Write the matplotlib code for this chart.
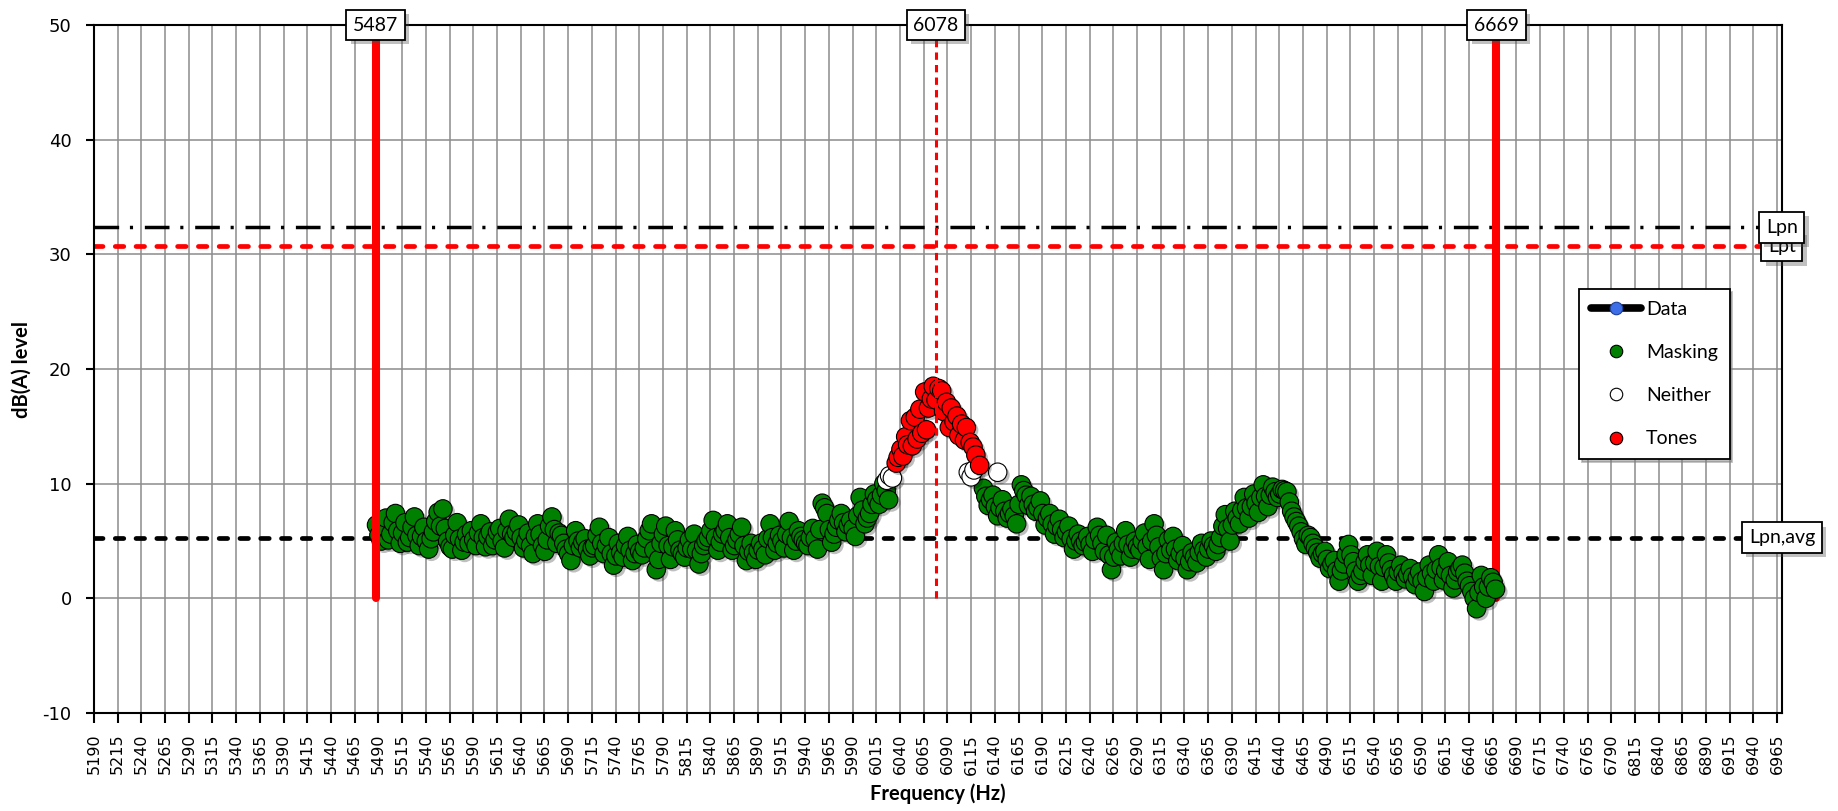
import matplotlib
matplotlib.use("Agg")
import matplotlib.pyplot as plt
import matplotlib.patheffects as pe
from matplotlib.lines import Line2D

plt.rcParams["axes.unicode_minus"] = False

# --- spectrum data (dB(A) per FFT line) -------------------------------------
# masking lines, even bins
masking_hz = [
    5488, 5493, 5498, 5503, 5508, 5513, 5518, 5523, 5528, 5533,
    5538, 5543, 5548, 5553, 5558, 5563, 5568, 5573, 5578, 5583,
    5588, 5593, 5598, 5603, 5608, 5613, 5618, 5623, 5628, 5633,
    5638, 5643, 5648, 5653, 5658, 5663, 5668, 5673, 5678, 5683,
    5688, 5693, 5698, 5703, 5708, 5713, 5718, 5723, 5728, 5733,
    5738, 5743, 5748, 5753, 5758, 5763, 5768, 5773, 5778, 5783,
    5788, 5793, 5798, 5803, 5808, 5813, 5818, 5823, 5828, 5833,
    5838, 5843, 5848, 5853, 5858, 5863, 5868, 5873, 5878, 5883,
    5888, 5893, 5898, 5903, 5908, 5913, 5918, 5923, 5928, 5933,
    5938, 5943, 5948, 5953, 5958, 5963, 5968, 5973, 5978, 5983,
    5988, 5993, 5998, 6003, 6008, 6013, 6018, 6023, 6028,
    6128, 6133, 6138, 6143, 6148, 6153, 6158, 6163, 6168, 6173,
    6178, 6183, 6188, 6193, 6198, 6203, 6208, 6213, 6218, 6223,
    6228, 6233, 6238, 6243, 6248, 6253, 6258, 6263, 6268, 6273,
    6278, 6283, 6288, 6293, 6298, 6303, 6308, 6313, 6318, 6323,
    6328, 6333, 6338, 6343, 6348, 6353, 6358, 6363, 6368, 6373,
    6378, 6383, 6388, 6393, 6398, 6403, 6408, 6413, 6418, 6423,
    6428, 6433, 6438, 6443, 6448, 6453, 6458, 6463, 6468, 6473,
    6478, 6483, 6488, 6493, 6498, 6503, 6508, 6513, 6518, 6523,
    6528, 6533, 6538, 6543, 6548, 6553, 6558, 6563, 6568, 6573,
    6578, 6583, 6588, 6593, 6598, 6603, 6608, 6613, 6618, 6623,
    6628, 6633, 6638, 6643, 6648, 6653, 6658, 6663, 6668,
]
masking_db = [
    6.4, 5.0, 7.0, 5.6, 7.4, 4.8, 6.6, 5.3, 7.1, 4.6,
    6.2, 4.3, 5.8, 7.5, 7.8, 5.0, 4.3, 6.6, 4.2, 5.6,
    5.9, 4.6, 6.5, 4.5, 5.8, 5.1, 6.1, 4.4, 6.9, 5.3,
    6.4, 4.4, 5.7, 3.9, 6.5, 4.6, 5.1, 7.1, 4.8, 5.5,
    4.3, 3.3, 5.9, 4.4, 5.2, 3.7, 4.6, 6.2, 3.9, 5.3,
    2.9, 4.8, 3.6, 5.4, 3.3, 4.7, 3.8, 5.2, 6.5, 2.5,
    4.8, 6.3, 3.4, 5.9, 4.2, 3.6, 5.1, 5.6, 3.0, 4.6,
    5.3, 6.8, 4.2, 5.6, 6.5, 4.2, 5.1, 6.2, 3.3, 4.8,
    3.4, 4.8, 3.8, 6.5, 4.2, 5.5, 4.4, 6.7, 4.2, 5.9,
    5.1, 4.6, 6.1, 4.3, 8.3, 7.4, 4.9, 6.2, 7.4, 5.8,
    6.8, 5.4, 8.8, 6.5, 7.4, 9.1, 8.2, 10.0, 8.6,
    9.6, 8.1, 9.0, 7.2, 8.6, 7.0, 7.8, 6.5, 9.9, 9.0,
    8.9, 7.6, 8.5, 6.4, 7.4, 5.6, 6.9, 5.3, 6.3, 4.3,
    5.6, 4.6, 5.4, 4.1, 6.2, 4.8, 5.5, 2.5, 4.9, 3.7,
    5.9, 3.6, 5.0, 4.2, 5.7, 3.4, 6.5, 4.5, 2.5, 5.1,
    5.4, 3.3, 4.6, 2.5, 4.0, 3.1, 4.8, 3.6, 5.0, 4.1,
    5.3, 7.3, 5.0, 7.6, 6.5, 8.8, 7.0, 9.1, 7.5, 9.9,
    8.0, 9.7, 8.8, 9.5, 9.3, 7.6, 6.7, 5.8, 4.7, 5.3,
    4.4, 3.5, 4.1, 2.6, 3.3, 1.5, 3.0, 4.7, 3.2, 1.5,
    2.4, 3.8, 2.0, 4.1, 1.5, 3.8, 2.5, 1.5, 2.9, 1.7,
    2.6, 1.2, 2.3, 0.6, 2.9, 1.5, 3.8, 1.6, 3.2, 0.9,
    2.3, 2.9, 1.5, 0.6, -0.9, 2.0, 0.0, 1.8, 0.8,
]

# masking lines, odd bins
masking_mid_hz = [
    5490.5, 5495.5, 5500.5, 5505.5, 5510.5, 5515.5, 5520.5, 5525.5, 5530.5, 5535.5,
    5540.5, 5545.5, 5550.5, 5555.5, 5560.5, 5565.5, 5570.5, 5575.5, 5580.5, 5585.5,
    5590.5, 5595.5, 5600.5, 5605.5, 5610.5, 5615.5, 5620.5, 5625.5, 5630.5, 5635.5,
    5640.5, 5645.5, 5650.5, 5655.5, 5660.5, 5665.5, 5670.5, 5675.5, 5680.5, 5685.5,
    5690.5, 5695.5, 5700.5, 5705.5, 5710.5, 5715.5, 5720.5, 5725.5, 5730.5, 5735.5,
    5740.5, 5745.5, 5750.5, 5755.5, 5760.5, 5765.5, 5770.5, 5775.5, 5780.5, 5785.5,
    5790.5, 5795.5, 5800.5, 5805.5, 5810.5, 5815.5, 5820.5, 5825.5, 5830.5, 5835.5,
    5840.5, 5845.5, 5850.5, 5855.5, 5860.5, 5865.5, 5870.5, 5875.5, 5880.5, 5885.5,
    5890.5, 5895.5, 5900.5, 5905.5, 5910.5, 5915.5, 5920.5, 5925.5, 5930.5, 5935.5,
    5940.5, 5945.5, 5950.5, 5955.5, 5960.5, 5965.5, 5970.5, 5975.5, 5980.5, 5985.5,
    5990.5, 5995.5, 6000.5, 6005.5, 6010.5, 6015.5, 6020.5, 6025.5,
    6130.5, 6135.5, 6140.5, 6145.5, 6150.5, 6155.5, 6160.5, 6165.5, 6170.5, 6175.5,
    6180.5, 6185.5, 6190.5, 6195.5, 6200.5, 6205.5, 6210.5, 6215.5, 6220.5, 6225.5,
    6230.5, 6235.5, 6240.5, 6245.5, 6250.5, 6255.5, 6260.5, 6265.5, 6270.5, 6275.5,
    6280.5, 6285.5, 6290.5, 6295.5, 6300.5, 6305.5, 6310.5, 6315.5, 6320.5, 6325.5,
    6330.5, 6335.5, 6340.5, 6345.5, 6350.5, 6355.5, 6360.5, 6365.5, 6370.5, 6375.5,
    6380.5, 6385.5, 6390.5, 6395.5, 6400.5, 6405.5, 6410.5, 6415.5, 6420.5, 6425.5,
    6430.5, 6435.5, 6440.5, 6445.5, 6450.5, 6455.5, 6460.5, 6465.5, 6470.5, 6475.5,
    6480.5, 6485.5, 6490.5, 6495.5, 6500.5, 6505.5, 6510.5, 6515.5, 6520.5, 6525.5,
    6530.5, 6535.5, 6540.5, 6545.5, 6550.5, 6555.5, 6560.5, 6565.5, 6570.5, 6575.5,
    6580.5, 6585.5, 6590.5, 6595.5, 6600.5, 6605.5, 6610.5, 6615.5, 6620.5, 6625.5,
    6630.5, 6635.5, 6640.5, 6645.5, 6650.5, 6655.5, 6660.5, 6665.5,
]
masking_mid_db = [
    5.5, 6.2, 5.1, 6.6, 5.9, 5.7, 4.9, 6.2, 5.5, 5.4,
    5.0, 5.2, 6.7, 6.3, 6.1, 4.5, 5.5, 5.2, 4.9, 4.8,
    5.1, 5.7, 5.3, 5.4, 4.6, 5.8, 5.0, 5.9, 5.6, 5.8,
    5.3, 5.0, 4.6, 5.4, 5.6, 4.1, 6.3, 6.0, 5.7, 4.8,
    3.9, 4.6, 5.0, 4.9, 4.3, 4.4, 5.5, 4.8, 4.6, 3.9,
    3.7, 4.0, 4.6, 4.2, 3.9, 4.1, 4.4, 5.9, 4.2, 3.4,
    5.6, 4.6, 4.5, 5.1, 3.9, 4.4, 4.3, 4.2, 3.9, 5.0,
    5.9, 5.3, 4.9, 5.9, 5.3, 4.6, 5.6, 4.6, 4.1, 4.0,
    4.2, 4.3, 5.2, 5.3, 4.8, 5.0, 5.6, 5.3, 5.0, 5.4,
    4.8, 5.3, 5.2, 6.0, 7.9, 6.0, 5.6, 6.8, 6.6, 6.4,
    6.1, 7.2, 7.7, 7.0, 8.2, 8.6, 9.0, 9.4,
    8.9, 8.6, 8.0, 7.9, 7.6, 7.4, 7.2, 8.2, 9.4, 8.1,
    8.2, 7.9, 7.4, 7.0, 6.5, 6.3, 6.0, 5.8, 5.2, 5.0,
    5.0, 4.9, 4.7, 5.1, 5.5, 4.1, 3.8, 3.6, 4.3, 4.8,
    4.7, 4.3, 4.5, 5.0, 4.5, 5.0, 5.5, 3.5, 3.9, 4.2,
    4.3, 3.9, 3.5, 3.2, 3.6, 4.0, 4.2, 4.3, 4.6, 4.7,
    6.3, 6.1, 6.4, 7.0, 7.7, 7.9, 8.0, 8.3, 8.8, 8.9,
    9.0, 9.3, 9.1, 9.4, 8.4, 7.1, 6.3, 5.2, 5.5, 4.8,
    4.0, 3.9, 3.4, 3.0, 2.4, 2.4, 3.8, 3.8, 2.4, 2.0,
    3.2, 2.9, 3.1, 2.8, 2.7, 3.1, 2.0, 2.3, 2.2, 2.1,
    1.9, 1.8, 1.5, 1.8, 2.2, 2.5, 2.7, 2.4, 2.0, 1.6,
    2.6, 2.2, 1.1, 0.0, 0.5, 1.0, 1.0, 1.4,
]

neither_hz = [6026, 6029, 6032, 6112, 6115, 6118, 6143]
neither_db = [10.3, 10.7, 10.5, 11.0, 10.6, 11.2, 11.0]

tones_hz = [
    6036, 6038, 6041, 6043, 6046, 6048, 6051, 6053, 6056, 6058,
    6061, 6063, 6066, 6068, 6070, 6073, 6075, 6078, 6081, 6084,
    6086, 6089, 6092, 6094, 6097, 6100, 6102, 6105, 6108, 6110,
    6114, 6117, 6120, 6124,
]
tones_db = [
    11.8, 12.3, 13.0, 12.4, 14.1, 13.4, 15.5, 13.3, 15.8, 13.9,
    16.5, 14.4, 18.0, 14.7, 16.6, 17.4, 18.5, 17.3, 18.3, 18.1,
    16.3, 17.1, 14.9, 16.6, 15.4, 15.9, 14.2, 15.2, 13.8, 14.9,
    13.6, 13.2, 12.5, 11.6,
]

# critical band edges / tone frequency (Hz) and levels (dB)
band_low_hz = 5487
tone_hz = 6078
band_high_hz = 6669
lpn_db = 32.35
lpt_db = 30.7
lpn_avg_db = 5.3

x_ticks = list(range(5190, 6966, 25))
y_ticks = [-10, 0, 10, 20, 30, 40, 50]

LABEL_FONT = "Lato"
GREEN = "#008000"
RED = "#ff0000"

fig = plt.figure(figsize=(18.38, 8.11), dpi=100)
ax = fig.add_axes([0.0511, 0.1208, 0.9184, 0.8483])
ax.set_xlim(5190, 6970)
ax.set_ylim(-10, 50)
ax.set_xticks(x_ticks)
ax.set_yticks(y_ticks)
ax.set_axisbelow(True)
ax.grid(True, color="#8c8c8c", lw=1.1)
for sp in ax.spines.values():
    sp.set_color("black")
    sp.set_linewidth(1.5)
ax.tick_params(axis="x", labelrotation=90, labelsize=11.5, length=7,
               width=1.5, pad=8)
ax.tick_params(axis="y", labelsize=13, length=6, width=1.5, pad=10)

ax.set_xlabel("Frequency (Hz)", family=LABEL_FONT, fontweight="bold",
              fontsize=14.5)
ax.set_ylabel("dB(A) level", family=LABEL_FONT, fontweight="bold",
              fontsize=14.5)
ax.xaxis.set_label_coords(0.5, -0.103)
ax.yaxis.set_label_coords(-0.037, 0.5)

# horizontal reference levels
ax.axhline(lpn_db, color="black", lw=2.5, solid_capstyle="butt",
           linestyle=(0, (7.1, 3.1, 0.9, 3.4)), zorder=2)
ax.axhline(lpt_db, color=RED, lw=3.4, dash_capstyle="round",
           linestyle=(0, (1.8, 2.6)), zorder=2)
ax.axhline(lpn_avg_db, color="black", lw=3.4, dash_capstyle="round",
           linestyle=(0, (1.8, 2.6)), zorder=2)

# spectrum points in frequency order, with a soft drop shadow
mask_pts = sorted(zip(masking_hz + masking_mid_hz, masking_db + masking_mid_db))
mask_f = [p[0] for p in mask_pts]
mask_l = [p[1] for p in mask_pts]

shadow = [pe.SimplePatchShadow(offset=(2, -2), shadow_rgbFace="black",
                               alpha=0.25), pe.Normal()]
mk = dict(ls="none", marker="o", ms=13.3, mec="black", mew=0.8)
ax.plot(mask_f, mask_l, mfc=GREEN, zorder=3, path_effects=shadow, **mk)
ax.plot(neither_hz, neither_db, mfc="white", zorder=4, path_effects=shadow, **mk)
ax.plot(tones_hz, tones_db, mfc=RED, zorder=5, path_effects=shadow, **mk)

# band edges and tone marker
ax.plot([band_low_hz, band_low_hz], [0, 50], color=RED, lw=5.8,
        solid_capstyle="round", zorder=6, clip_on=False)
ax.plot([band_high_hz, band_high_hz], [0, 50], color=RED, lw=5.8,
        solid_capstyle="round", zorder=2.5, clip_on=False)
ax.plot([tone_hz, tone_hz], [0, 50], color=RED, lw=2.2,
        dash_capstyle="butt", linestyle=(0, (2.4, 1.7)), zorder=6)


def boxed_label(x, y, text, z=8):
    t = ax.text(x, y, text, ha="center", va="center", family=LABEL_FONT,
                fontsize=14, zorder=z, clip_on=False,
                bbox=dict(boxstyle="square,pad=0.34", fc="white",
                          ec="black", lw=1.3))
    t.get_bbox_patch().set_path_effects(
        [pe.SimplePatchShadow(offset=(3, -3), alpha=0.35), pe.Normal()])
    return t


for f in (band_low_hz, tone_hz, band_high_hz):
    boxed_label(f, 50, str(f))
boxed_label(6970, lpt_db, "Lpt", z=8)
boxed_label(6970, lpn_db, "Lpn", z=9)
boxed_label(6970, lpn_avg_db, "Lpn,avg", z=8)

handles = [
    Line2D([], [], color="black", lw=5.5, solid_capstyle="round",
           marker="o", ms=9, mfc="#3d6ee8", mec="#1d3f9a", mew=0.8),
    Line2D([], [], ls="none", marker="o", ms=9, mfc=GREEN, mec="black", mew=0.8),
    Line2D([], [], ls="none", marker="o", ms=9, mfc="white", mec="black", mew=0.8),
    Line2D([], [], ls="none", marker="o", ms=9, mfc=RED, mec="black", mew=0.8),
]
leg = fig.legend(handles, ["Data", "Masking", "Neither", "Tones"],
                 loc="upper left", bbox_to_anchor=(1579 / 1838, 1 - 289 / 811),
                 prop={"family": LABEL_FONT, "size": 14}, frameon=True,
                 fancybox=False, edgecolor="black", borderpad=0.6,
                 labelspacing=1.35, handlelength=2.6, handletextpad=0.25,
                 borderaxespad=0, shadow={"color": "gray", "alpha": 0.5})
leg.get_frame().set_linewidth(1.3)
leg.set_zorder(10)

fig.savefig("out.png", dpi=100, facecolor="white")
